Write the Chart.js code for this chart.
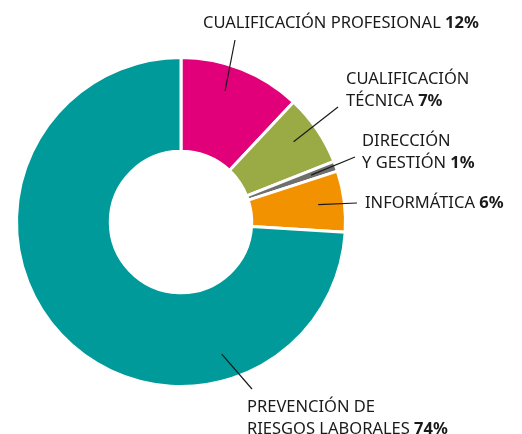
<!DOCTYPE html>
<html>
<head>
<meta charset="utf-8">
<script src="https://cdn.jsdelivr.net/npm/chart.js@4/dist/chart.umd.min.js"></script>
<style>
  html, body { margin: 0; padding: 0; background: #fff; }
  #wrap { width: 522px; height: 434px; }
</style>
</head>
<body>
<div id="wrap"><canvas id="chart" width="522" height="434"></canvas></div>
<script>
  // datos del gráfico
  const categories = ['CUALIFICACIÓN PROFESIONAL', 'CUALIFICACIÓN TÉCNICA', 'DIRECCIÓN Y GESTIÓN', 'INFORMÁTICA', 'PREVENCIÓN DE RIESGOS LABORALES'];
  const values = [12, 7, 1, 6, 74];
  const percentLabels = ['12%', '7%', '1%', '6%', '74%'];
  const colors = ['#e2007a', '#9aab45', '#6f6f6e', '#f39200', '#009a9a'];

  // etiquetas: líneas de texto, posición y punto final de la línea guía
  const labelLines = [
    [['CUALIFICACIÓN PROFESIONAL', true]],
    [['CUALIFICACIÓN', false], ['TÉCNICA', true]],
    [['DIRECCIÓN', false], ['Y GESTIÓN', true]],
    [['INFORMÁTICA', true]],
    [['PREVENCIÓN DE', false], ['RIESGOS LABORALES', true]]
  ];
  const labelPos = [
    { x: 203, y: 28, lx: 235, ly: 40, t: 0.43 },
    { x: 346, y: 84, lx: 338, ly: 107, t: 0.45 },
    { x: 362, y: 146, lx: 355, ly: 157, t: 0.5 },
    { x: 365, y: 208, lx: 357, ly: 203, t: 0.5 },
    { x: 247, y: 412, lx: 252, ly: 389, t: 0.26 }
  ];

  const FONT = '"Noto Sans", sans-serif';
  const SIZE = 16.5;
  const LINE_H = 22;

  const labelsPlugin = {
    id: 'sliceLabels',
    afterDatasetsDraw(chart) {
      const ctx = chart.ctx;
      const meta = chart.getDatasetMeta(0);
      ctx.save();
      meta.data.forEach((arc, i) => {
        const p = labelPos[i];
        const a = arc.startAngle + (arc.endAngle - arc.startAngle) * p.t;
        const r = arc.innerRadius + (arc.outerRadius - arc.innerRadius) * 0.72;
        const sx = arc.x + Math.cos(a) * r;
        const sy = arc.y + Math.sin(a) * r;
        ctx.strokeStyle = '#1a1a1a';
        ctx.lineWidth = 1.2;
        ctx.beginPath();
        ctx.moveTo(sx, sy);
        ctx.lineTo(p.lx, p.ly);
        ctx.stroke();

        ctx.fillStyle = '#1a1a1a';
        ctx.textBaseline = 'alphabetic';
        labelLines[i].forEach((ln, k) => {
          const y = p.y + k * LINE_H;
          ctx.font = SIZE + 'px ' + FONT;
          ctx.fillText(ln[0], p.x, y);
          if (ln[1]) {
            const w = ctx.measureText(ln[0] + ' ').width;
            ctx.font = 'bold ' + SIZE + 'px ' + FONT;
            ctx.fillText(percentLabels[i], p.x + w, y);
          }
        });
      });
      ctx.restore();
    }
  };

  new Chart(document.getElementById('chart'), {
    type: 'doughnut',
    data: {
      labels: categories,
      datasets: [{
        data: values,
        backgroundColor: colors,
        borderColor: '#ffffff',
        borderWidth: 3
      }]
    },
    options: {
      responsive: false,
      animation: false,
      cutout: '43%',
      layout: { padding: { left: 15, top: 56, right: 175, bottom: 46 } },
      plugins: {
        legend: { display: false },
        tooltip: { enabled: false }
      }
    },
    plugins: [labelsPlugin]
  });
</script>
</body>
</html>
